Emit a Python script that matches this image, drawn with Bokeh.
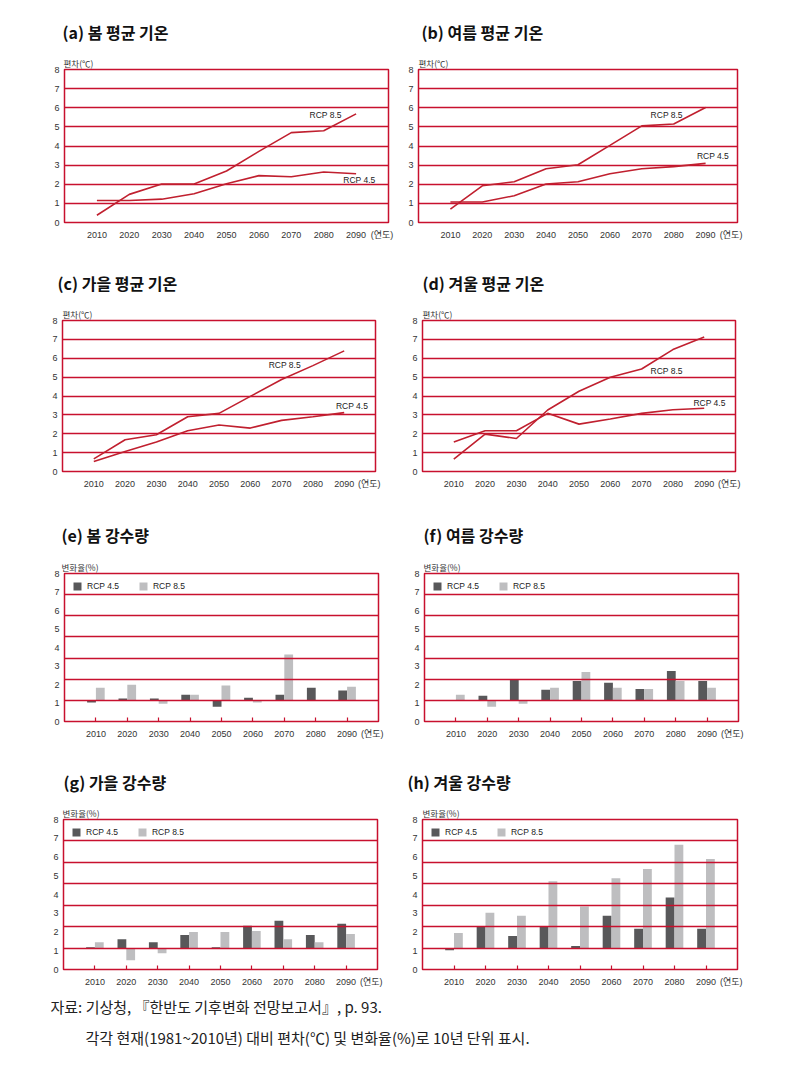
from bokeh.plotting import figure
from bokeh.layouts import column, row
from bokeh.models import Range1d, FixedTicker, Title, ColumnDataSource
from bokeh.transform import dodge
from bokeh.core.properties import value
from bokeh.embed import file_html
from bokeh.resources import INLINE

nan = float("nan")

# ---------------- data ----------------
years = [2010, 2020, 2030, 2040, 2050, 2060, 2070, 2080, 2090]
year_unit = "(연도)"
series_names = ["RCP 4.5", "RCP 8.5"]
y_ticks = [0, 1, 2, 3, 4, 5, 6, 7, 8]

panel_titles = ["(a) 봄 평균 기온", "(b) 여름 평균 기온", "(c) 가을 평균 기온", "(d) 겨울 평균 기온",
                "(e) 봄 강수량", "(f) 여름 강수량", "(g) 가을 강수량", "(h) 겨울 강수량"]
temp_unit = "편차(℃)"
prec_unit = "변화율(%)"

# temperature anomaly (℃)
spring_t45 = [1.15, 1.15, 1.22, 1.50, 2.03, 2.45, 2.39, 2.64, 2.55]
spring_t85 = [0.38, 1.47, 2.01, 2.01, 2.69, 3.72, 4.70, 4.80, 5.68]
summer_t45 = [1.07, 1.07, 1.40, 2.01, 2.13, 2.55, 2.81, 2.92, 3.09]
summer_t85 = [0.70, 1.92, 2.13, 2.81, 3.02, 4.03, 5.05, 5.15, 6.01]
autumn_t45 = [0.53, 1.06, 1.56, 2.16, 2.46, 2.30, 2.71, 2.90, 3.12]
autumn_t85 = [0.67, 1.68, 1.95, 2.90, 3.08, 3.98, 4.87, 5.61, 6.39]
winter_t45 = [1.56, 2.16, 2.16, 3.08, 2.51, 2.78, 3.08, 3.27, 3.35]
winter_t85 = [0.65, 1.98, 1.75, 3.26, 4.25, 4.99, 5.43, 6.46, 7.12]

# precipitation change (bar tops read on the printed axis)
spring_p45 = [1.03, 1.25, 1.25, 1.45, 0.80, 1.29, 1.45, 1.83, 1.67]
spring_p85 = [1.83, 1.99, 0.96, 1.45, 1.94, 1.03, 3.62, nan, 1.88]
summer_p45 = [nan, 1.39, 2.27, 1.71, 2.19, 2.09, 1.76, 2.73, 2.19]
summer_p85 = [1.44, 0.80, 0.96, 1.82, 2.68, 1.82, 1.76, 2.19, 1.82]
autumn_p45 = [1.19, 1.62, 1.46, 1.84, 1.19, 2.33, 2.60, 1.84, 2.44]
autumn_p85 = [1.46, 0.49, 0.87, 2.00, 2.00, 2.06, 1.62, 1.46, 1.90]
winter_p45 = [1.03, 2.27, 1.79, 2.27, 1.25, 2.87, 2.17, 3.84, 2.17]
winter_p85 = [1.95, 3.03, 2.87, 4.71, 3.36, 4.87, 5.36, 6.66, 5.90]

footer_lines = ["자료: 기상청, 『한반도 기후변화 전망보고서』, p. 93.",
                "각각 현재(1981~2010년) 대비 편차(℃) 및 변화율(%)로 10년 단위 표시."]

# ---------------- style ----------------
RED = "#c8102e"
LINE = "#c0202f"
DARK = "#58585a"
LIGHT = "#bebec0"
TXT = "#333333"
NUM_FONT = "Liberation Sans, Noto Sans CJK KR"
KR_FONT = "Noto Sans CJK KR"
UNIT_TICK = 2098
GRID_STEP = 8 / 7  # printed bar panels: 7 grid bands
BAR_BASE = GRID_STEP


def base_fig(geom, title, unit, toff, uoff, s2):
    left, fw, right, fh, bottom = geom
    p = figure(frame_width=fw, frame_height=fh, x_range=Range1d(2000, 2100),
               y_range=Range1d(0, 8), output_backend="svg", toolbar_location=None,
               title=None, min_border=0, min_border_left=left, min_border_right=right,
               min_border_bottom=bottom, min_border_top=0,
               background_fill_color="white", border_fill_color="white")
    p.add_layout(Title(text=unit, align="left", offset=uoff, standoff=2,
                       text_font_size="8.5px", text_font=KR_FONT, text_font_style="normal",
                       text_color=TXT), "above")
    p.add_layout(Title(text=title, align="left", offset=toff, standoff=s2,
                       text_font_size="16px", text_font=KR_FONT, text_font_style="bold",
                       text_color="#111111"), "above")
    p.outline_line_color = RED
    p.outline_line_width = 1.5
    p.xgrid.grid_line_color = None
    p.ygrid.grid_line_color = RED
    p.ygrid.grid_line_width = 1.5
    p.ygrid.grid_line_alpha = 1.0
    for ax in (p.xaxis[0], p.yaxis[0]):
        ax.axis_line_color = None
        ax.major_tick_in = 0
        ax.major_tick_out = 0
        ax.minor_tick_in = 0
        ax.minor_tick_out = 0
        ax.major_label_text_font = NUM_FONT
        ax.major_label_text_font_size = "9px"
        ax.major_label_text_color = TXT
    p.yaxis.ticker = FixedTicker(ticks=y_ticks, minor_ticks=[])
    p.yaxis.major_label_standoff = 5
    p.xaxis.major_label_standoff = 7
    p.xaxis.major_label_overrides = {UNIT_TICK: year_unit}
    return p


def line_panel(geom, title, t45, t85, lab45, lab85, toff, uoff, s2):
    p = base_fig(geom, title, temp_unit, toff, uoff, s2)
    p.xaxis.ticker = FixedTicker(ticks=years + [UNIT_TICK], minor_ticks=[])
    p.ygrid.ticker = FixedTicker(ticks=y_ticks)
    p.line(years, t45, line_color=LINE, line_width=1.6)
    p.line(years, t85, line_color=LINE, line_width=1.6)
    p.text(x=[lab85[0], lab45[0]], y=[lab85[1], lab45[1]], text=[series_names[1], series_names[0]],
           text_font=value("Liberation Sans"), text_font_size="8.5px", text_color="#222222",
           text_align="center", text_baseline="middle")
    return p


def bar_panel(geom, title, p45, p85, toff, uoff, s2):
    p = base_fig(geom, title, prec_unit, toff, uoff, s2)
    p.xaxis.ticker = FixedTicker(ticks=years + [UNIT_TICK], minor_ticks=years)
    p.xaxis.minor_tick_in = 4
    p.xaxis.minor_tick_out = 0
    p.xaxis.minor_tick_line_color = RED
    p.xaxis.minor_tick_line_width = 1.2
    p.ygrid.ticker = FixedTicker(ticks=[GRID_STEP * k for k in range(1, 8)])
    src = ColumnDataSource(dict(year=years, v45=p45, v85=p85))
    p.vbar(x=dodge("year", -1.4), top="v45", bottom=BAR_BASE, width=2.8, source=src,
           fill_color=DARK, line_color=None, legend_label=series_names[0])
    p.vbar(x=dodge("year", 1.4), top="v85", bottom=BAR_BASE, width=2.8, source=src,
           fill_color=LIGHT, line_color=None, legend_label=series_names[1])
    lg = p.legend[0]
    lg.location = "top_left"
    lg.orientation = "horizontal"
    lg.margin = 8
    lg.padding = 0
    lg.spacing = 19
    lg.glyph_width = 10
    lg.glyph_height = 10
    lg.label_height = 10
    lg.label_standoff = 5
    lg.label_text_font = "Liberation Sans"
    lg.label_text_font_size = "8.5px"
    lg.label_text_color = "#222222"
    lg.border_line_color = None
    lg.background_fill_alpha = 0
    p.ygrid.level = "overlay"
    return p


# geometry: (left border, frame width, right border, frame height, bottom border)
fa = line_panel((56, 324, 13, 153, 36), panel_titles[0], spring_t45, spring_t85,
                (2091, 2.24), (2080.6, 5.64), -2, -1, 19)
fb = line_panel((17, 319, 57, 153, 36), panel_titles[1], summer_t45, summer_t85,
                (2092.3, 3.48), (2077.8, 5.64), 3, 0, 19)
fc = line_panel((54, 313, 26, 151, 39), panel_titles[2], autumn_t45, autumn_t85,
                (2092.5, 3.47), (2071, 5.63), -5, 0, 20)
fd = line_panel((21, 313, 59, 151, 39), panel_titles[3], winter_t45, winter_t85,
                (2091.7, 3.65), (2078, 5.31), 0, 0, 20)
fe = bar_panel((56, 314, 23, 148, 37), panel_titles[4], spring_p45, spring_p85, -3, -3, 21)
ff = bar_panel((23, 314, 56, 148, 37), panel_titles[5], summer_p45, summer_p85, -1, -1, 21)
fg = bar_panel((55, 314, 24, 150, 18), panel_titles[6], autumn_p45, autumn_p85, 0, -1, 19)
fh = bar_panel((21, 315, 57, 150, 18), panel_titles[7], winter_p45, winter_p85, -15, 0, 19)

foot = figure(width=787, height=80, x_range=Range1d(0, 787), y_range=Range1d(0, 80),
              output_backend="svg", toolbar_location=None, title=None, min_border=0)
foot.axis.visible = False
foot.grid.grid_line_color = None
foot.outline_line_color = None
foot.text(x=[42, 77], y=[63, 32], text=footer_lines, text_font=value(KR_FONT),
          text_font_size="15px", text_color="#222222", text_baseline="middle")

layout = column(row(fa, fb), row(fc, fd), row(fe, ff), row(fg, fh), foot)
layout.margin = (8, 0, 0, 8)

with open("out.html", "w") as f:
    f.write(file_html(layout, INLINE))
